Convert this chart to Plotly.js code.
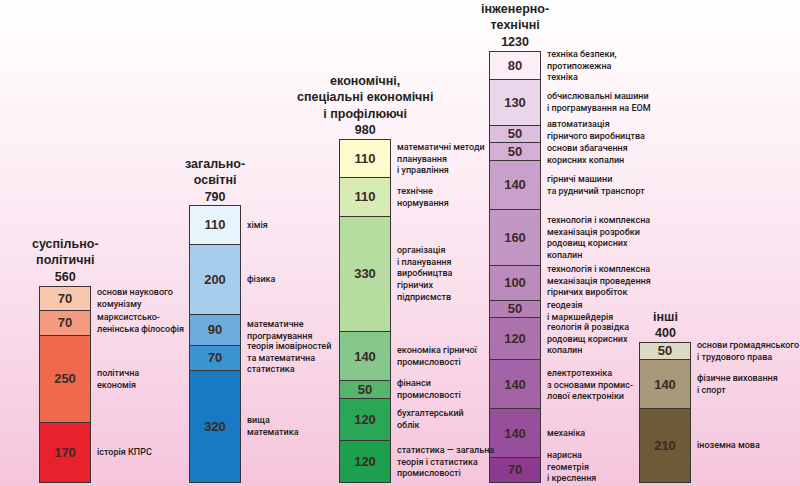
<!DOCTYPE html>
<html>
<head>
<meta charset="utf-8">
<script src="https://cdn.plot.ly/plotly-3.0.1.min.js"></script>
<style>
  html, body { margin: 0; padding: 0; }
  body { width: 800px; height: 486px; overflow: hidden;
    background: linear-gradient(to bottom, #ffffff 0%, #fdf1f7 30%, #f9dcea 65%, #f5c5dc 100%); }
  #chart { width: 800px; height: 486px; }
</style>
</head>
<body>
<div id="chart"></div>
<script>
// Group titles (categories)
const groupTitles = [
  "суспільно-<br>політичні",
  "загально-<br>освітні",
  "економічні,<br>спеціальні економічні<br>і профілюючі",
  "інженерно-<br>технічні",
  "інші"
];

// Segment values per group, bottom to top
const vals1 = [170, 250, 70, 70];
const vals2 = [320, 70, 90, 200, 110];
const vals3 = [120, 120, 50, 140, 330, 110, 110];
const vals4 = [70, 140, 140, 120, 50, 100, 160, 140, 50, 50, 130, 80];
const vals5 = [210, 140, 50];

// Segment labels per group, bottom to top
const labels1 = ["історія КПРС", "політична<br>економія", "марксистсько-<br>ленінська філософія", "основи наукового<br>комунізму"];
const labels2 = ["вища<br>математика", "теорія імовірностей<br>та математична<br>статистика", "математичне<br>програмування", "фізика", "хімія"];
const labels3 = ["статистика — загальна<br>теорія і статистика<br>промисловості", "бухгалтерський<br>облік", "фінанси<br>промисловості", "економіка гірничої<br>промисловості", "організація<br>і планування<br>виробництва<br>гірничих<br>підприємств", "технічне<br>нормування", "математичні методи<br>планування<br>і управління"];
const labels4 = ["нарисна<br>геометрія<br>і креслення", "механіка", "електротехніка<br>з основами промис-<br>лової електроніки", "геологія й розвідка<br>родовищ корисних<br>копалин", "геодезія<br>і маркшейдерія", "технологія і комплексна<br>механізація проведення<br>гірничих виробіток", "технологія і комплексна<br>механізація розробки<br>родовищ корисних<br>копалин", "гірничі машини<br>та рудничий транспорт", "основи збагачення<br>корисних копалин", "автоматизація<br>гірничого виробництва", "обчислювальні машини<br>і програмування на ЕОМ", "техніка безпеки,<br>протипожежна<br>техніка"];
const labels5 = ["іноземна мова", "фізичне виховання<br>і спорт", "основи громадянського<br>і трудового права"];

// Colours (style, kept separately)
const colors1 = ["#e8212e", "#ef6a4c", "#f39a80", "#f7c7ae"];
const colors2 = ["#1979c2", "#3d94d2", "#6eaadb", "#a6cdee", "#e6f4fc"];
const colors3 = ["#1e9f4e", "#2aa657", "#55b56c", "#86c78b", "#b6dda0", "#d8ebb4", "#fdfbcb"];
const colors4 = ["#8c3a90", "#984f9b", "#a264a6", "#ac72ae", "#b480b5", "#ba8bbc", "#c297c3", "#c9a0ca", "#d3b0d4", "#dcbfdc", "#ead6ea", "#fbeef6"];
const colors5 = ["#6c5a38", "#a7987a", "#dcd9c5"];

// Small vertical label nudges in pixels (style; positive = up)
const nudge4 = [3, 0, 0, 0, -2, 2, 0, 0, -3, 4, 0, 0];

const groups = [
  {v: vals1, l: labels1, c: colors1, n: null},
  {v: vals2, l: labels2, c: colors2, n: null},
  {v: vals3, l: labels3, c: colors3, n: null},
  {v: vals4, l: labels4, c: colors4, n: nudge4},
  {v: vals5, l: labels5, c: colors5, n: null}
];

const LABEL_FONT = "Roboto, 'Liberation Sans', sans-serif";
const BOLD_FONT = "'Liberation Sans', Roboto, sans-serif";
const BAR_W = 0.34;
const traces = [];
const annotations = [];

groups.forEach((g, gi) => {
  let cum = 0;
  g.v.forEach((v, si) => {
    traces.push({
      type: "bar",
      x: [gi],
      y: [v],
      width: BAR_W,
      marker: { color: g.c[si], line: { color: "#3a3433", width: 1 } },
      text: [String(v)],
      textposition: "inside",
      insidetextanchor: "middle",
      constraintext: "none",
      textangle: 0,
      textfont: { family: BOLD_FONT, size: 13, color: "#3b2a26", weight: "bold" },
      hoverinfo: "skip"
    });
    annotations.push({
      x: gi + BAR_W / 2, y: cum + v / 2,
      xref: "x", yref: "y",
      xanchor: "left", yanchor: "middle", align: "left",
      xshift: 4,
      yshift: g.n ? g.n[si] : 0,
      text: g.l[si],
      showarrow: false,
      font: { family: LABEL_FONT, size: 9, color: "#231a1a", weight: 500 }
    });
    cum += v;
  });
  annotations.push({
    x: gi, y: cum, xref: "x", yref: "y",
    xanchor: "center", yanchor: "bottom", align: "center",
    yshift: 0,
    text: "<b>" + groupTitles[gi] + "<br>" + cum + "</b>",
    showarrow: false,
    font: { family: BOLD_FONT, size: 12.5, color: "#231f20" }
  });
});

const layout = {
  width: 800, height: 486,
  margin: { l: 0, r: 0, t: 0, b: 0 },
  paper_bgcolor: "rgba(0,0,0,0)",
  plot_bgcolor: "rgba(0,0,0,0)",
  barmode: "stack",
  showlegend: false,
  hovermode: false,
  xaxis: { visible: false, range: [-0.4333, 4.9], fixedrange: true },
  yaxis: { visible: false, range: [-11.43, 1377.14], fixedrange: true },
  annotations: annotations
};

Plotly.newPlot("chart", traces, layout, { displayModeBar: false, staticPlot: true });
</script>
</body>
</html>
